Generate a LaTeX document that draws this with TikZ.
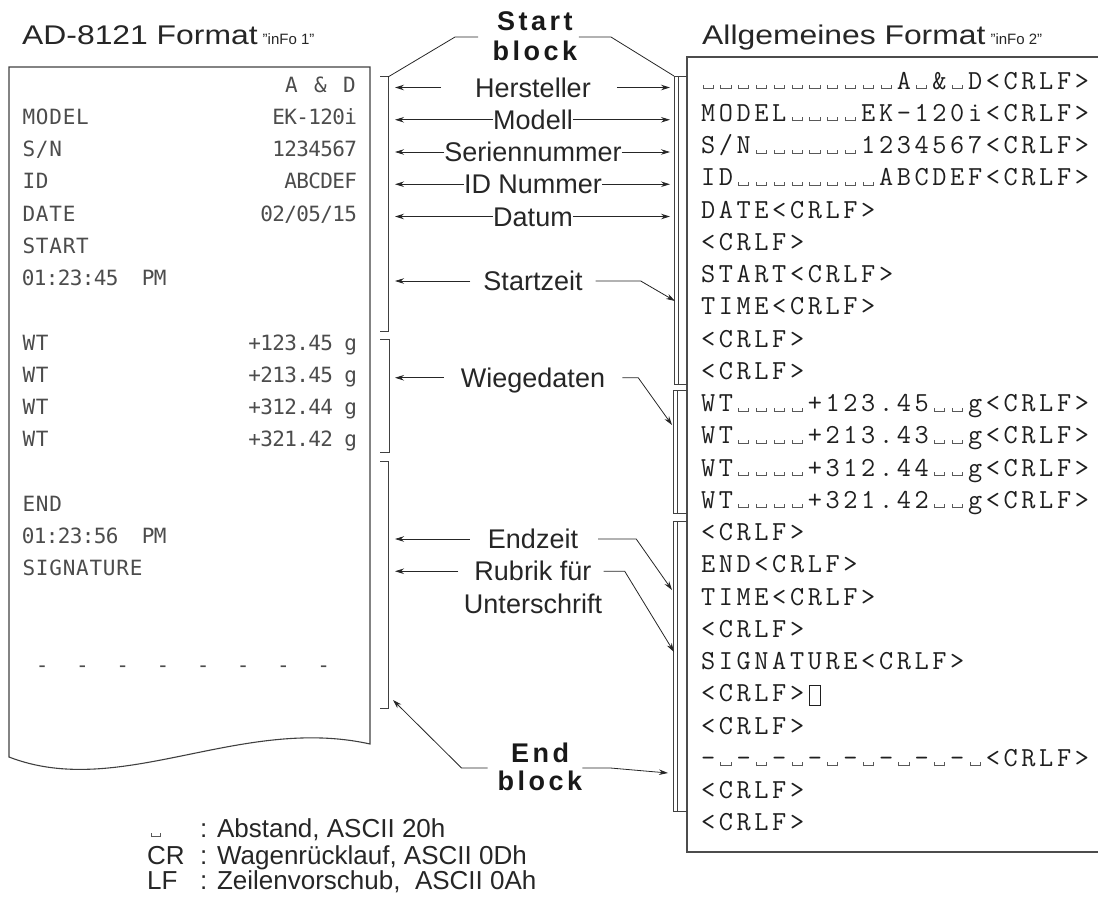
\documentclass[tikz,border=0pt]{standalone}
\usepackage{fontspec}
\setmainfont{Liberation Sans}
\newfontfamily\lmono{DejaVu Sans Mono}
\usetikzlibrary{arrows.meta}
\newlength\cellw
\def\monoend{\monoend}
\def\mono#1#2{\setlength\cellw{#1}\monoloop#2\monoend}
\def\monoloop#1{\ifx#1\monoend\else\makebox[\cellw][c]{#1}\expandafter\monoloop\fi}
\def\spaced#1{\sploop#1\monoend}
\def\sploop#1{\ifx#1\monoend\kern-3.5pt\else#1\kern3.5pt\expandafter\sploop\fi}
\newcommand\vsp{\textcolor{black!65}{\rule{0.8pt}{4pt}\rule{9.5pt}{0.8pt}\rule{0.8pt}{4pt}}}
\newcommand\lcup{\textcolor{black!65}{\rule{0.8pt}{4pt}\rule{8pt}{0.8pt}\rule{0.8pt}{4pt}}}
\newcommand\rsq{\raisebox{-3pt}{\setlength\fboxsep{0pt}\setlength\fboxrule{0.8pt}\fbox{\rule{0pt}{19pt}\hspace{10pt}}}}
\newcommand\rrow[1]{\mono{17.8pt}{#1<CRLF>}}
\newcommand\lrow[1]{\mono{13.4pt}{#1}}
\newcommand\lrowr[1]{\mono{12pt}{#1}}
\newcommand\labfont{\fontsize{27}{31}\selectfont}
\newcommand\legfont{\fontsize{26}{30}\selectfont}
\newcommand\segfont{\fontsize{15}{18}\selectfont}
\tikzset{
  lab/.style={inner sep=0, font=\labfont, text=black!85, text height=19pt, text depth=0pt},
  leg/.style={inner sep=0, font=\legfont, text=black!85},
  ttl/.style={inner sep=0, font=\fontsize{27}{31}\selectfont, text=black!85},
  ltxt/.style={inner sep=0, font=\lmono\fontsize{21}{24}\selectfont, text=black!70},
  rtxt/.style={inner sep=0, font=\fontsize{27.5}{32}\selectfont\ttfamily, text=black!88},
  bld/.style={inner sep=0, font=\fontsize{27}{31}\selectfont\bfseries, text=black!90},
  arr/.style={draw=black!85, line width=0.8pt, -{Stealth[length=9pt,width=5.5pt]}},
  ln/.style={draw=black!85, line width=0.8pt},
  lbr/.style={draw=black!75, line width=0.9pt},
  rbr/.style={draw=black!75, line width=0.7pt},
  paper/.style={draw=black!75, line width=1.1pt},
  box/.style={draw=black!70, line width=1.4pt},
}
\begin{document}
\begin{tikzpicture}[x=1pt,y=-1pt]
\useasboundingbox (0,0) rectangle (1098,911);

% titles
\node[ttl, anchor=base west] (t1) at (22,44) {\scalebox{1.18}[1]{AD-8121 Format}\hspace{5pt}{\segfont"inFo 1"}};
\node[ttl, anchor=base west] (t2) at (702,44) {\scalebox{1.18}[1]{Allgemeines Format}\hspace{5pt}{\segfont"inFo 2"}};

% paper
\draw[paper] (9,757) -- (9,67) -- (370,67) -- (370,744) .. controls (240,715) and (120,800) .. (9,757) -- cycle;

% left printout
\node[ltxt, anchor=base east] (l0r) at (357,92) {\mono{14.5pt}{A~\&~D}};
\node[ltxt, anchor=base west] (l1l) at (22,124.25) {\lrow{MODEL}};
\node[ltxt, anchor=base east] (l1r) at (357,124.25) {\lrowr{EK-120i}};
\node[ltxt, anchor=base west] (l2l) at (22,156.5) {\lrow{S/N}};
\node[ltxt, anchor=base east] (l2r) at (357,156.5) {\lrowr{1234567}};
\node[ltxt, anchor=base west] (l3l) at (22,188.75) {\lrow{ID}};
\node[ltxt, anchor=base east] (l3r) at (357,188.75) {\lrowr{ABCDEF}};
\node[ltxt, anchor=base west] (l4l) at (22,221) {\lrow{DATE}};
\node[ltxt, anchor=base east] (l4r) at (357,221) {\lrowr{02/05/15}};
\node[ltxt, anchor=base west] (l5l) at (22,253.25) {\lrow{START}};
\node[ltxt, anchor=base west] (l6l) at (22,285.5) {\lrowr{01:23:45~~PM}};
\node[ltxt, anchor=base west] (l8l) at (22,350) {\lrow{WT}};
\node[ltxt, anchor=base east] (l8r) at (357,350) {\lrowr{+123.45~g}};
\node[ltxt, anchor=base west] (l9l) at (22,382.25) {\lrow{WT}};
\node[ltxt, anchor=base east] (l9r) at (357,382.25) {\lrowr{+213.45~g}};
\node[ltxt, anchor=base west] (l10l) at (22,414.5) {\lrow{WT}};
\node[ltxt, anchor=base east] (l10r) at (357,414.5) {\lrowr{+312.44~g}};
\node[ltxt, anchor=base west] (l11l) at (22,446.75) {\lrow{WT}};
\node[ltxt, anchor=base east] (l11r) at (357,446.75) {\lrowr{+321.42~g}};
\node[ltxt, anchor=base west] (l13l) at (22,511.25) {\lrow{END}};
\node[ltxt, anchor=base west] (l14l) at (22,543.5) {\lrowr{01:23:56~~PM}};
\node[ltxt, anchor=base west] (l15l) at (22,575.75) {\lrow{SIGNATURE}};
\node[ltxt, anchor=base west] (l18l) at (22,672.5) {\lrow{~-~~-~~-~~-~~-~~-~~-~~-}};

% left brackets
\draw[lbr] (380,76) -- (388,76) -- (388,331) -- (380,331);
\draw[lbr] (380,339) -- (389,339) -- (389,452) -- (380,452);
\draw[lbr] (380,461) -- (388,461) -- (388,708) -- (380,708);

% right box
\draw[box] (1099,57) -- (687,57) -- (687,852) -- (1099,852);

% right brackets
\draw[rbr] (687,76) -- (674,76) -- (674,384) -- (687,384);
\draw[rbr] (678,76) -- (678,384);
\draw[rbr] (687,390) -- (673,390) -- (673,513) -- (687,513);
\draw[rbr] (677,390) -- (677,513);
\draw[rbr] (687,521) -- (673,521) -- (673,811) -- (687,811);
\draw[rbr] (677,521) -- (677,811);

% right rows
\node[rtxt, anchor=base west] (r0) at (699,89) {\rrow{\vsp\vsp\vsp\vsp\vsp\vsp\vsp\vsp\vsp\vsp\vsp A\vsp\&\vsp D}};
\node[rtxt, anchor=base west] (r1) at (699,121.25) {\rrow{MODEL\vsp\vsp\vsp\vsp EK-120i}};
\node[rtxt, anchor=base west] (r2) at (699,153.5) {\rrow{S/N\vsp\vsp\vsp\vsp\vsp\vsp 1234567}};
\node[rtxt, anchor=base west] (r3) at (699,185.75) {\rrow{ID\vsp\vsp\vsp\vsp\vsp\vsp\vsp\vsp ABCDEF}};
\node[rtxt, anchor=base west] (r4) at (699,218) {\rrow{DATE}};
\node[rtxt, anchor=base west] (r5) at (699,250.25) {\rrow{}};
\node[rtxt, anchor=base west] (r6) at (699,282.5) {\rrow{START}};
\node[rtxt, anchor=base west] (r7) at (699,314.75) {\rrow{TIME}};
\node[rtxt, anchor=base west] (r8) at (699,347) {\rrow{}};
\node[rtxt, anchor=base west] (r9) at (699,379.25) {\rrow{}};
\node[rtxt, anchor=base west] (r10) at (699,411.5) {\rrow{WT\vsp\vsp\vsp\vsp+123.45\vsp\vsp g}};
\node[rtxt, anchor=base west] (r11) at (699,443.75) {\rrow{WT\vsp\vsp\vsp\vsp+213.43\vsp\vsp g}};
\node[rtxt, anchor=base west] (r12) at (699,476) {\rrow{WT\vsp\vsp\vsp\vsp+312.44\vsp\vsp g}};
\node[rtxt, anchor=base west] (r13) at (699,508.25) {\rrow{WT\vsp\vsp\vsp\vsp+321.42\vsp\vsp g}};
\node[rtxt, anchor=base west] (r14) at (699,540.5) {\rrow{}};
\node[rtxt, anchor=base west] (r15) at (699,572.75) {\rrow{END}};
\node[rtxt, anchor=base west] (r16) at (699,605) {\rrow{TIME}};
\node[rtxt, anchor=base west] (r17) at (699,637.25) {\rrow{}};
\node[rtxt, anchor=base west] (r18) at (699,669.5) {\rrow{SIGNATURE}};
\node[rtxt, anchor=base west] (r19) at (699,701.75) {\mono{17.8pt}{<CRLF>\rsq}};
\node[rtxt, anchor=base west] (r20) at (699,734) {\rrow{}};
\node[rtxt, anchor=base west] (r21) at (699,766.25) {\rrow{-\vsp-\vsp-\vsp-\vsp-\vsp-\vsp-\vsp-\vsp}};
\node[rtxt, anchor=base west] (r22) at (699,798.5) {\rrow{}};
\node[rtxt, anchor=base west] (r23) at (699,830.75) {\rrow{}};

% middle labels
\coordinate (lx) at (395,0);
\coordinate (rx) at (670,0);
\node[lab, anchor=base] (hs) at (533,97) {Hersteller};
\node[lab, anchor=base] (mo) at (533,129.25) {Modell};
\node[lab, anchor=base] (sn) at (533,161.5) {Seriennummer};
\node[lab, anchor=base] (idn) at (533,193.75) {ID Nummer};
\node[lab, anchor=base] (da) at (533,226) {Datum};
\node[lab, anchor=base] (sz) at (533,290.5) {Startzeit};
\node[lab, anchor=base] (wd) at (533,387.25) {Wiegedaten};
\node[lab, anchor=base] (ez) at (533,548.5) {Endzeit};
\node[lab, anchor=base] (rf) at (533,580.75) {Rubrik für};
\node[lab, anchor=base] (us) at (533,613) {Unterschrift};

\draw[arr] ([xshift=-34pt]hs.west) -- (hs.west -| lx);
\draw[arr] ([xshift=26pt]hs.east) -- (hs.east -| rx);
\draw[arr] (mo.west) -- (mo.west -| lx);
\draw[arr] (mo.east) -- (mo.east -| rx);
\draw[arr] (sn.west) -- (sn.west -| lx);
\draw[arr] (sn.east) -- (sn.east -| rx);
\draw[arr] (idn.west) -- (idn.west -| lx);
\draw[arr] (idn.east) -- (idn.east -| rx);
\draw[arr] (da.west) -- (da.west -| lx);
\draw[arr] (da.east) -- (da.east -| rx);

\coordinate (tsz) at (675,301);
\coordinate (twd) at (672,425);
\coordinate (tez) at (672,590);
\coordinate (trf) at (674,652);
\draw[arr] ([xshift=-13pt]sz.west) -- (sz.west -| lx);
\draw[arr] ([xshift=13pt]sz.east) -- ([xshift=58pt]sz.east) -- (tsz);
\draw[arr] ([xshift=-17pt]wd.west) -- (wd.west -| lx);
\draw[arr] ([xshift=17pt]wd.east) -- ([xshift=33pt]wd.east) -- (twd);
\draw[arr] ([xshift=-18pt]ez.west) -- (ez.west -| lx);
\draw[arr] ([xshift=20pt]ez.east) -- ([xshift=58pt]ez.east) -- (tez);
\draw[arr] ([xshift=-16pt]rf.west) -- (rf.west -| lx);
\draw[arr] ([xshift=12pt]rf.east) -- ([xshift=33pt]rf.east) -- (trf);

% start / end block
\node[bld, anchor=base] (sb1) at (535,30) {\spaced{Start}};
\node[bld, anchor=base] (sb2) at (535,60) {\spaced{block}};
\coordinate (lb1t) at (388,77);
\coordinate (rb1t) at (674,76);
\draw[ln] ([shift={(-19,7)}]sb1.base west) -- ++(-23,0) -- (lb1t);
\draw[ln] ([shift={(6,7)}]sb1.base east) -- ++(32,0) -- (rb1t);

\node[bld, anchor=base] (eb1) at (540,762) {\spaced{End}};
\node[bld, anchor=base] (eb2) at (540,790) {\spaced{block}};
\coordinate (lb3b) at (393,700);
\coordinate (rb3e) at (668,773);
\draw[arr] ([shift={(-10,-22)}]eb2.base west) -- ++(-26,0) -- (lb3b);
\draw[arr] ([shift={(0,-22)}]eb2.base east) -- ++(28,0) -- (rb3e);

% legend
\node[leg, anchor=base west] (lg1) at (151,837) {\lcup};
\node[leg, anchor=base west] (lg2) at (147,864) {CR};
\node[leg, anchor=base west] (lg3) at (147,889) {LF};
\node[leg, anchor=base west] (lt1) at (200,837) {: Abstand, ASCII 20h};
\node[leg, anchor=base west] (lt2) at (200,864) {: Wagenrücklauf, ASCII 0Dh};
\node[leg, anchor=base west] (lt3) at (200,889) {: Zeilenvorschub,\ \ ASCII 0Ah};
\end{tikzpicture}
\end{document}
